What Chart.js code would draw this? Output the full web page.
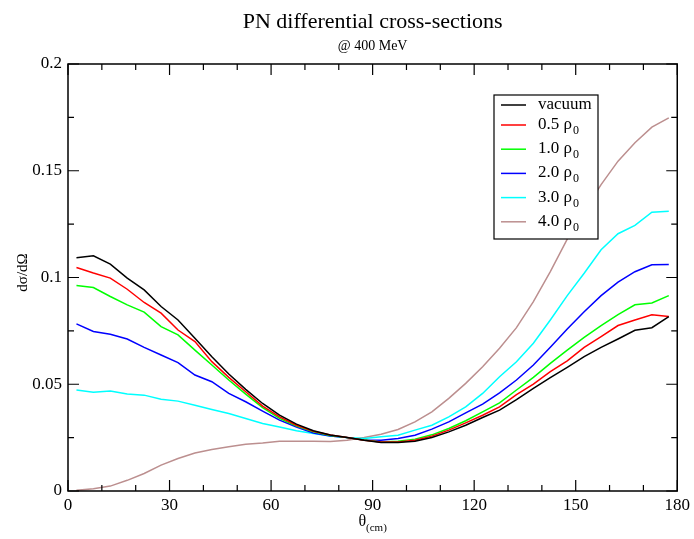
<!DOCTYPE html>
<html>
<head>
<meta charset="utf-8">
<script src="https://cdn.jsdelivr.net/npm/chart.js@4/dist/chart.umd.min.js"></script>
<style>
  html, body { margin: 0; padding: 0; background: #fff; }
  #wrap { width: 694px; height: 539px; }
</style>
</head>
<body>
<div id="wrap"><canvas id="chart"></canvas></div>
<script>
// scattering angle in degrees (cm frame)
const angles = [2.5, 7.5, 12.5, 17.5, 22.5, 27.5, 32.5, 37.5, 42.5, 47.5, 52.5, 57.5,
  62.5, 67.5, 72.5, 77.5, 82.5, 87.5, 92.5, 97.5, 102.5, 107.5, 112.5, 117.5,
  122.5, 127.5, 132.5, 137.5, 142.5, 147.5, 152.5, 157.5, 162.5, 167.5, 172.5, 177.5];

const vacuum = [0.1093, 0.1102, 0.1063, 0.0997, 0.0942, 0.0864, 0.0801, 0.0715, 0.0629, 0.0548, 0.0476, 0.0410,
  0.0355, 0.0313, 0.0282, 0.0262, 0.0251, 0.0238, 0.0227, 0.0227, 0.0233, 0.0251, 0.0277, 0.0308,
  0.0344, 0.0379, 0.0428, 0.0481, 0.0531, 0.0579, 0.0629, 0.0673, 0.0712, 0.0753, 0.0765, 0.0817];
const rho05 = [0.1047, 0.1021, 0.0997, 0.0945, 0.0883, 0.0833, 0.0754, 0.0700, 0.0606, 0.0532, 0.0465, 0.0398,
  0.0347, 0.0308, 0.0280, 0.0262, 0.0251, 0.0238, 0.0229, 0.0229, 0.0238, 0.0257, 0.0285, 0.0319,
  0.0355, 0.0394, 0.0451, 0.0501, 0.0559, 0.0610, 0.0673, 0.0723, 0.0775, 0.0801, 0.0825, 0.0817];
const rho10 = [0.0963, 0.0953, 0.0911, 0.0872, 0.0838, 0.0770, 0.0731, 0.0660, 0.0590, 0.0520, 0.0454, 0.0391,
  0.0340, 0.0304, 0.0277, 0.0260, 0.0250, 0.0239, 0.0230, 0.0233, 0.0243, 0.0263, 0.0293, 0.0329,
  0.0371, 0.0413, 0.0473, 0.0532, 0.0598, 0.0660, 0.0720, 0.0775, 0.0826, 0.0872, 0.0881, 0.0915];
const rho20 = [0.0783, 0.0747, 0.0734, 0.0712, 0.0673, 0.0637, 0.0601, 0.0543, 0.0512, 0.0457, 0.0418, 0.0374,
  0.0332, 0.0300, 0.0272, 0.0257, 0.0250, 0.0239, 0.0238, 0.0246, 0.0261, 0.0290, 0.0324, 0.0366,
  0.0407, 0.0460, 0.0520, 0.0590, 0.0673, 0.0759, 0.0840, 0.0915, 0.0978, 0.1027, 0.1060, 0.1061];
const rho30 = [0.0473, 0.0462, 0.0468, 0.0454, 0.0449, 0.0430, 0.0421, 0.0402, 0.0382, 0.0363, 0.0340, 0.0316,
  0.0300, 0.0282, 0.0269, 0.0258, 0.0251, 0.0246, 0.0254, 0.0261, 0.0285, 0.0308, 0.0347, 0.0394,
  0.0457, 0.0535, 0.0605, 0.0692, 0.0801, 0.0915, 0.1020, 0.1130, 0.1205, 0.1244, 0.1306, 0.1310];
const rho40 = [0.0003, 0.0011, 0.0023, 0.0050, 0.0082, 0.0121, 0.0152, 0.0178, 0.0194, 0.0207, 0.0219, 0.0225,
  0.0233, 0.0233, 0.0233, 0.0232, 0.0238, 0.0251, 0.0266, 0.0288, 0.0324, 0.0371, 0.0434, 0.0504,
  0.0582, 0.0669, 0.0765, 0.0887, 0.1028, 0.1180, 0.1310, 0.1435, 0.1545, 0.1631, 0.1704, 0.1748];

const seriesNames = ['vacuum', '0.5 ρ', '1.0 ρ', '2.0 ρ', '3.0 ρ', '4.0 ρ'];
const seriesSubs = ['', '0', '0', '0', '0', '0'];
const seriesColors = ['#000000', '#ff0000', '#00ff00', '#0000ff', '#00ffff', '#bc8f8f'];
const seriesValues = [vacuum, rho05, rho10, rho20, rho30, rho40];

const xTicks = [0, 30, 60, 90, 120, 150, 180];
const yTicks = [0, 0.05, 0.1, 0.15, 0.2];
const yTickLabels = ['0', '0.05', '0.1', '0.15', '0.2'];

const SERIF = '"Liberation Serif", "DejaVu Serif", serif';

const datasets = seriesValues.map((vals, i) => ({
  label: seriesNames[i] + seriesSubs[i],
  data: angles.map((a, j) => ({ x: a, y: vals[j] })),
  borderColor: seriesColors[i],
  backgroundColor: seriesColors[i],
  borderWidth: 1.5,
  pointRadius: 0,
  tension: 0,
  fill: false
}));

// frame, inward ticks, titles and legend box like the xmgrace original
const decorations = {
  id: 'decorations',
  afterDraw(chart) {
    const { ctx, chartArea: a, scales: { x, y } } = chart;
    ctx.save();
    ctx.strokeStyle = '#000';
    ctx.lineWidth = 1.5;
    ctx.strokeRect(a.left, a.top, a.right - a.left, a.bottom - a.top);

    ctx.lineWidth = 1.2;
    ctx.beginPath();
    for (let v = 0; v <= 180; v += 10) {
      const px = x.getPixelForValue(v);
      const len = v % 30 === 0 ? 11 : 6;
      ctx.moveTo(px, a.bottom); ctx.lineTo(px, a.bottom - len);
      ctx.moveTo(px, a.top); ctx.lineTo(px, a.top + len);
    }
    for (let k = 0; k <= 8; k++) {
      const py = y.getPixelForValue(k * 0.025);
      const len = k % 2 === 0 ? 11 : 6;
      ctx.moveTo(a.left, py); ctx.lineTo(a.left + len, py);
      ctx.moveTo(a.right, py); ctx.lineTo(a.right - len, py);
    }
    ctx.stroke();

    // titles
    const cx = (a.left + a.right) / 2;
    ctx.fillStyle = '#000';
    ctx.textAlign = 'center';
    ctx.textBaseline = 'alphabetic';
    ctx.font = '22px ' + SERIF;
    ctx.fillText('PN differential cross-sections', cx, 28);
    ctx.font = '14px ' + SERIF;
    ctx.fillText('@ 400 MeV', cx, 50);

    // x axis title: theta with (cm) subscript
    ctx.font = '16px ' + SERIF;
    const tw = ctx.measureText('θ').width;
    ctx.font = '11px ' + SERIF;
    const sw = ctx.measureText('(cm)').width;
    const sx = cx - (tw + sw) / 2;
    ctx.textAlign = 'left';
    ctx.font = '16px ' + SERIF;
    ctx.fillText('θ', sx, 526);
    ctx.font = '11px ' + SERIF;
    ctx.fillText('(cm)', sx + tw, 531);

    // y axis title
    ctx.save();
    ctx.translate(27, (a.top + a.bottom) / 2 - 5);
    ctx.rotate(-Math.PI / 2);
    ctx.textAlign = 'center';
    ctx.font = '15px ' + SERIF;
    ctx.fillText('dσ/dΩ', 0, 0);
    ctx.restore();

    // legend
    const lx = 494, ly = 95, lw = 104, lh = 144;
    ctx.fillStyle = '#fff';
    ctx.fillRect(lx, ly, lw, lh);
    ctx.strokeStyle = '#000';
    ctx.lineWidth = 1.2;
    ctx.strokeRect(lx, ly, lw, lh);
    seriesNames.forEach((name, i) => {
      const rowY = i === 0 ? 105 : 125 + (i - 1) * 24.2;
      ctx.strokeStyle = seriesColors[i];
      ctx.lineWidth = 1.5;
      ctx.beginPath();
      ctx.moveTo(501, rowY); ctx.lineTo(526, rowY);
      ctx.stroke();
      ctx.fillStyle = '#000';
      ctx.textAlign = 'left';
      ctx.textBaseline = 'alphabetic';
      ctx.font = '17px ' + SERIF;
      ctx.fillText(name, 538, rowY + 4);
      if (seriesSubs[i]) {
        const w = ctx.measureText(name).width;
        ctx.font = '12px ' + SERIF;
        ctx.fillText(seriesSubs[i], 538 + w + 1, rowY + 9);
      }
    });
    ctx.restore();
  }
};

new Chart(document.getElementById('chart'), {
  type: 'line',
  data: { datasets },
  plugins: [decorations],
  options: {
    responsive: true,
    maintainAspectRatio: false,
    animation: false,
    layout: { padding: { top: 64, right: 16, left: 0, bottom: 0 } },
    plugins: { legend: { display: false }, tooltip: { enabled: false }, title: { display: false } },
    scales: {
      x: {
        type: 'linear',
        min: 0, max: 180,
        afterFit: s => { s.height = 48; },
        afterBuildTicks: s => { s.ticks = xTicks.map(v => ({ value: v })); },
        grid: { display: false, drawTicks: false },
        border: { display: false },
        ticks: {
          padding: 4,
          color: '#000',
          maxRotation: 0,
          font: { family: SERIF, size: 17 },
          callback: v => String(v)
        }
      },
      y: {
        min: 0, max: 0.2,
        afterFit: s => { s.width = 68; },
        afterBuildTicks: s => { s.ticks = yTicks.map(v => ({ value: v })); },
        grid: { display: false, drawTicks: false },
        border: { display: false },
        ticks: {
          padding: 6,
          color: '#000',
          font: { family: SERIF, size: 17 },
          callback: (v, i) => yTickLabels[i]
        }
      }
    }
  }
});
</script>
</body>
</html>
